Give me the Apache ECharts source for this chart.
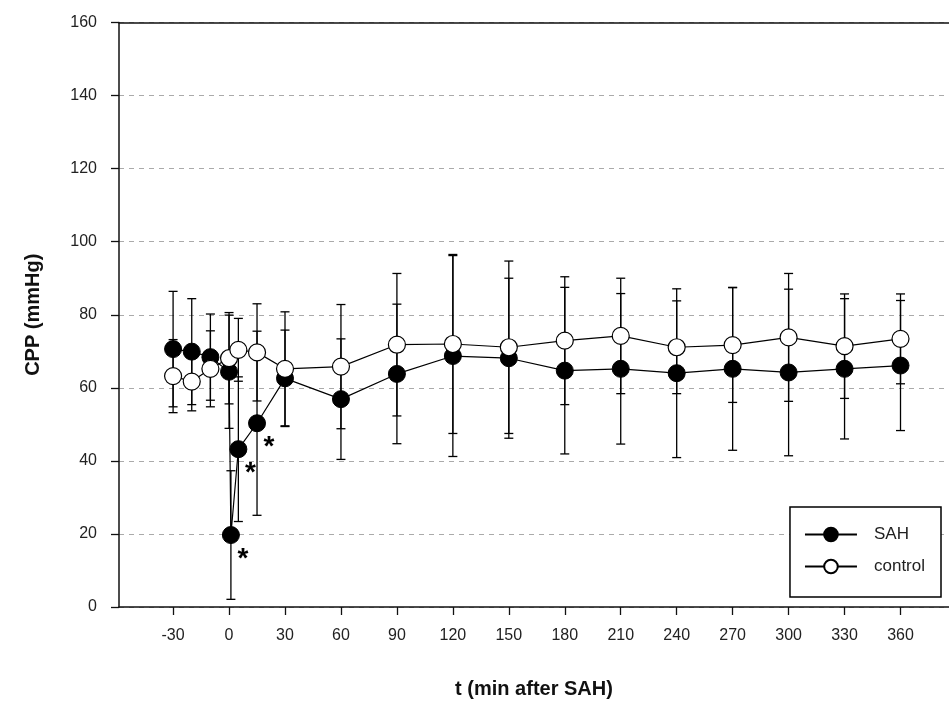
<!DOCTYPE html>
<html>
<head>
<meta charset="utf-8">
<script src="https://cdn.jsdelivr.net/npm/echarts@6/dist/echarts.min.js"></script>
<style>
  html, body { margin: 0; padding: 0; background: #fff; }
  #chart { width: 949px; height: 708px; }
</style>
</head>
<body>
<div id="chart"></div>
<script>
// time points (min after SAH)
const sahTimes = [-30, -20, -10, 0, 1, 5, 15, 30, 60, 90, 120, 150, 180, 210, 240, 270, 300, 330, 360];
const sahMean = [70.6, 69.9, 68.4, 64.4, 19.7, 43.2, 50.3, 62.6, 56.9, 63.8, 68.7, 68.1, 64.7, 65.2, 64.0, 65.2, 64.2, 65.2, 66.1];
const sahSd = [15.8, 14.5, 11.8, 15.5, 17.6, 19.8, 25.2, 13.2, 16.5, 19.1, 27.5, 21.9, 22.8, 20.6, 23.1, 22.3, 22.8, 19.2, 17.8];

const ctrlTimes = [-30, -20, -10, 0, 5, 15, 30, 60, 90, 120, 150, 180, 210, 240, 270, 300, 330, 360];
const ctrlMean = [63.2, 61.7, 65.2, 68.1, 70.4, 69.7, 65.2, 65.8, 71.8, 72.0, 71.1, 72.9, 74.2, 71.1, 71.7, 73.8, 71.4, 73.4];
const ctrlSd = [10.0, 8.0, 10.4, 12.5, 8.6, 13.3, 15.6, 17.0, 19.5, 24.5, 23.6, 17.5, 15.8, 12.7, 15.7, 17.5, 14.3, 12.3];

// SAH time points marked as significant (*)
const sigTimes = [1, 5, 15];

const xTicks = [-30, 0, 30, 60, 90, 120, 150, 180, 210, 240, 270, 300, 330, 360];

const font = 'Liberation Sans, Arial, sans-serif';

const chart = echarts.init(document.getElementById('chart'));

function errData(times, mean, sd) {
    return times.map((t, i) => [t, mean[i] - sd[i], mean[i] + sd[i]]);
}

function renderErr(params, api) {
    const x = api.value(0);
    const top = api.coord([x, api.value(2)]);
    const bot = api.coord([x, api.value(1)]);
    const w = 4.5;
    const st = { stroke: '#000', lineWidth: 1.3 };
    return {
        type: 'group',
        children: [
            { type: 'line', shape: { x1: top[0], y1: top[1], x2: bot[0], y2: bot[1] }, style: st },
            { type: 'line', shape: { x1: top[0] - w, y1: top[1], x2: top[0] + w, y2: top[1] }, style: st },
            { type: 'line', shape: { x1: bot[0] - w, y1: bot[1], x2: bot[0] + w, y2: bot[1] }, style: st },
        ],
    };
}

const sahData = sahTimes.map((t, i) => {
    const item = { value: [t, sahMean[i]] };
    if (sigTimes.includes(t)) {
        item.label = {
            show: true,
            formatter: '*',
            position: 'inside',
            offset: [12, 24],
            fontSize: 28,
            fontWeight: 'bold',
            fontFamily: font,
            color: '#000',
        };
    }
    return item;
});

const ctrlData = ctrlTimes.map((t, i) => [t, ctrlMean[i]]);

chart.setOption({
    animation: false,
    backgroundColor: '#fff',
    grid: { left: 119, right: 0, top: 22.5, bottom: 101 },
    legend: {
        orient: 'vertical',
        right: 8,
        bottom: 111,
        data: ['SAH', 'control'],
        itemWidth: 52,
        itemHeight: 17,
        itemGap: 15,
        padding: [19, 16, 22, 14],
        borderColor: '#000',
        borderWidth: 1.5,
        backgroundColor: '#fff',
        textStyle: { fontFamily: font, fontSize: 17, color: '#222', padding: [0, 0, 0, 12] },
    },
    xAxis: [
        {
            type: 'value',
            min: -59,
            max: 386,
            name: 't (min after SAH)',
            nameLocation: 'middle',
            nameGap: 72,
            nameTextStyle: { fontFamily: font, fontSize: 20, fontWeight: 'bold', color: '#111' },
            axisLine: { onZero: false, lineStyle: { color: '#111', width: 1.5 } },
            axisTick: { show: true, length: 8, customValues: xTicks, lineStyle: { color: '#111', width: 1.3 } },
            axisLabel: { customValues: xTicks, margin: 21, fontFamily: font, fontSize: 16, color: '#222' },
            splitLine: { show: false },
        },
        {
            type: 'value',
            position: 'top',
            min: -59,
            max: 386,
            axisLine: { show: true, onZero: false, lineStyle: { color: '#111', width: 1.5 } },
            axisTick: { show: false },
            axisLabel: { show: false },
            splitLine: { show: false },
        },
    ],
    yAxis: {
        type: 'value',
        min: 0,
        max: 160,
        interval: 20,
        name: 'CPP (mmHg)',
        nameLocation: 'middle',
        nameGap: 76,
        nameTextStyle: { fontFamily: font, fontSize: 20, fontWeight: 'bold', color: '#111' },
        axisLine: { show: true, onZero: false, lineStyle: { color: '#111', width: 1.5 } },
        axisTick: { show: true, length: 8, lineStyle: { color: '#111', width: 1.3 } },
        axisLabel: { margin: 22, fontFamily: font, fontSize: 16, color: '#222' },
        splitLine: { show: true, lineStyle: { color: '#aaa', type: [5, 5], width: 1 } },
    },
    series: [
        {
            name: 'SAH err',
            type: 'custom',
            renderItem: renderErr,
            encode: { x: 0, y: [1, 2] },
            data: errData(sahTimes, sahMean, sahSd),
            z: 1,
            silent: true,
        },
        {
            name: 'control err',
            type: 'custom',
            renderItem: renderErr,
            encode: { x: 0, y: [1, 2] },
            data: errData(ctrlTimes, ctrlMean, ctrlSd),
            z: 1,
            silent: true,
        },
        {
            name: 'SAH',
            type: 'line',
            data: sahData,
            symbol: 'circle',
            symbolSize: 17,
            lineStyle: { color: '#000', width: 1.2 },
            itemStyle: { color: '#000', borderColor: '#000', borderWidth: 1 },
            z: 3,
        },
        {
            name: 'control',
            type: 'line',
            data: ctrlData,
            symbol: 'circle',
            symbolSize: 17,
            lineStyle: { color: '#000', width: 1.2 },
            itemStyle: { color: '#fff', borderColor: '#000', borderWidth: 1.2 },
            z: 4,
        },
    ],
});
</script>
</body>
</html>
